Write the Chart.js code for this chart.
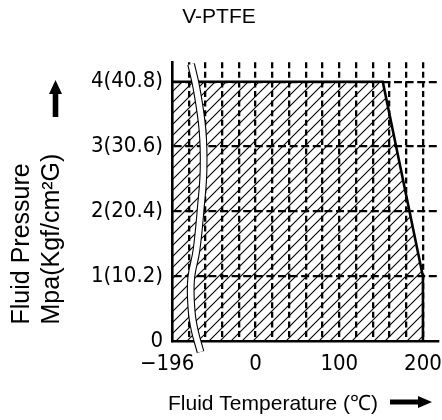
<!DOCTYPE html>
<html>
<head>
<meta charset="utf-8">
<script src="https://cdn.jsdelivr.net/npm/chart.js@4/dist/chart.umd.min.js"></script>
<style>
  html, body { margin: 0; padding: 0; background: #fff; }
  #wrap { width: 442px; height: 420px; }
</style>
</head>
<body>
<div id="wrap"><canvas id="chart"></canvas></div>
<script>
// ---- values ----
// temperature axis: grid every 20; the left end (-100) stands for -196 behind the break
const tempTicks = [-100, -80, -60, -40, -20, 0, 20, 40, 60, 80, 100, 120, 140, 160, 180, 200];
const tempLabels = { '-100': '\u2212196\u2002', '0': '0', '100': '100', '200': '200' };
const pressTicks = [0, 1, 2, 3, 4];
const pressLabels = ['0', '1(10.2)', '2(20.4)', '3(30.6)', '4(40.8)'];

// allowed working area outline
const limitTemp = [-100, 152, 200, 200];
const limitPress = [4, 4, 1, 0];

// centre of the wavy axis-break band
const breakTemp = [-77.2, -70.7, -63.5, -62.3, -65.3, -70.7, -77.2, -76.6, -73.0, -65.9];
const breakPress = [4.27, 3.90, 3.25, 2.64, 2.10, 1.41, 0.95, 0.48, 0.18, -0.16];

const titleText = 'V-PTFE';
const yTitle = ['Fluid Pressure', 'Mpa(Kgf/cm\u00B2G)'];
const xTitle = 'Fluid Temperature (\u2103)';

const textFont = '"Liberation Sans", Arial, sans-serif';
const tickFont = '"Liberation Sans Narrow", "DejaVu Sans Condensed", "Liberation Sans", sans-serif';

// diagonal hatch
function hatchPattern() {
  const s = 11;
  const c = document.createElement('canvas');
  c.width = s; c.height = s;
  const g = c.getContext('2d');
  g.strokeStyle = '#000';
  g.lineWidth = 1.1;
  g.beginPath();
  g.moveTo(-1, s + 1); g.lineTo(s + 1, -1);
  g.moveTo(-1, 1); g.lineTo(1, -1);
  g.moveTo(s - 1, s + 1); g.lineTo(s + 1, s - 1);
  g.stroke();
  return g.createPattern(c, 'repeat');
}

const zip = (xs, ys) => xs.map((x, i) => ({ x: x, y: ys[i] }));

// axis titles and arrows
const titlesPlugin = {
  id: 'titles',
  afterDraw(chart) {
    const ctx = chart.ctx;
    const a = chart.chartArea;
    ctx.save();
    ctx.fillStyle = '#000';
    ctx.textAlign = 'left';
    ctx.textBaseline = 'alphabetic';

    ctx.font = '25px ' + textFont;
    ctx.save();
    ctx.translate(29, a.bottom - 17);
    ctx.rotate(-Math.PI / 2);
    ctx.fillText(yTitle[0], 0, 0);
    ctx.fillText(yTitle[1], 0, 30);
    ctx.restore();

    ctx.font = '21px ' + textFont;
    ctx.fillText(xTitle, a.left - 4, a.bottom + 68);

    // up arrow
    ctx.beginPath();
    ctx.moveTo(55.5, 80); ctx.lineTo(62, 94); ctx.lineTo(58.3, 94); ctx.lineTo(58.3, 117);
    ctx.lineTo(52.7, 117); ctx.lineTo(52.7, 94); ctx.lineTo(49, 94); ctx.closePath();
    ctx.fill();
    // right arrow
    ctx.beginPath();
    ctx.moveTo(390, 399.5); ctx.lineTo(418, 399.5); ctx.lineTo(418, 396); ctx.lineTo(432, 402);
    ctx.lineTo(418, 408); ctx.lineTo(418, 404.5); ctx.lineTo(390, 404.5); ctx.closePath();
    ctx.fill();
    ctx.restore();
  }
};

new Chart(document.getElementById('chart'), {
  type: 'line',
  data: {
    datasets: [
      {
        // thin white gap of the break
        data: zip(breakTemp, breakPress),
        borderColor: '#fff', borderWidth: 5.6, tension: 0.4,
        pointRadius: 0, fill: false, clip: false
      },
      {
        // black edges of the break
        data: zip(breakTemp, breakPress),
        borderColor: '#000', borderWidth: 7.8, tension: 0.4,
        pointRadius: 0, fill: false, clip: false
      },
      {
        data: zip(limitTemp, limitPress),
        borderColor: '#000', borderWidth: 2.6, tension: 0,
        backgroundColor: hatchPattern(),
        pointRadius: 0, fill: 'origin'
      }
    ]
  },
  plugins: [titlesPlugin],
  options: {
    responsive: true,
    maintainAspectRatio: false,
    animation: false,
    layout: { padding: { left: 0, right: 4, top: 0, bottom: 0 } },
    plugins: {
      legend: { display: false },
      tooltip: { enabled: false },
      title: {
        display: true,
        text: titleText,
        color: '#000',
        font: { family: textFont, size: 21, weight: 'normal' },
        padding: { top: 5, bottom: 32 }
      }
    },
    scales: {
      x: {
        type: 'linear',
        min: -100, max: 218,
        z: 1,
        afterBuildTicks: s => { s.ticks = tempTicks.map(v => ({ value: v })); },
        afterFit: s => { s.height = 78.5; s.paddingLeft = 0; s.paddingRight = 0; },
        ticks: {
          autoSkip: false, maxRotation: 0, padding: 10, color: '#000',
          font: { family: tickFont, size: 22 },
          callback: v => tempLabels[String(v)] || ''
        },
        grid: {
          drawTicks: false, lineWidth: 2.3,
          color: c => (c.tick && c.tick.value === -100) ? 'rgba(0,0,0,0)' : '#000'
        },
        border: { display: true, color: '#000', width: 2.6, dash: [6, 3.6] }
      },
      y: {
        type: 'linear',
        min: 0, max: 4.3,
        z: 1,
        afterBuildTicks: s => { s.ticks = pressTicks.map(v => ({ value: v })); },
        afterFit: s => { s.width = 172; },
        ticks: {
          padding: 9, color: '#000',
          font: { family: tickFont, size: 22 },
          callback: v => pressLabels[pressTicks.indexOf(v)]
        },
        grid: {
          drawTicks: false, lineWidth: 2.3,
          color: c => (c.tick && c.tick.value === 0) ? 'rgba(0,0,0,0)' : '#000'
        },
        border: { display: true, color: '#000', width: 2.6, dash: [8, 3.6] }
      }
    }
  }
});
</script>
</body>
</html>
